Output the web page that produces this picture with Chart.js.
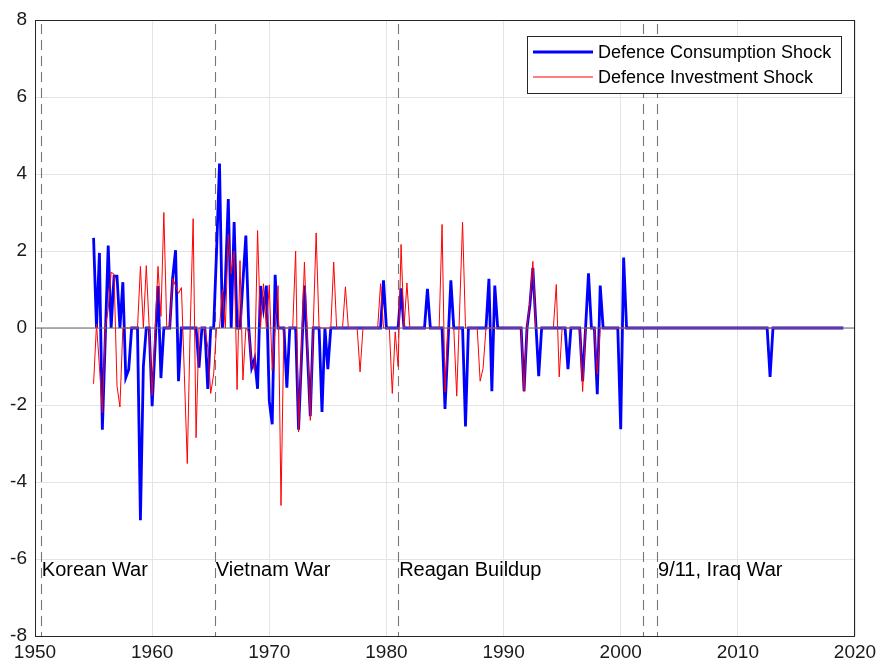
<!DOCTYPE html>
<html>
<head>
<meta charset="utf-8">
<script src="https://cdn.jsdelivr.net/npm/chart.js@4.4.1/dist/chart.umd.min.js"></script>
<style>
  html, body { margin: 0; padding: 0; background: #fff; }
</style>
</head>
<body>
<canvas id="shockChart" width="877" height="666"></canvas>
<script>
// quarterly series, first observation 1955Q1
var startYear = 1955;

var consumptionShock = [
  2.34, 0, 1.95, -2.64,      // 1955
  -0.25, 2.14, 0, 1.35,      // 1956
  1.35, 0, 1.19, -1.29,      // 1957
  -1.08, 0, 0, 0,            // 1958
  -4.99, -1.0, 0, 0,         // 1959
  -2.03, -0.47, 1.09, -1.3,  // 1960
  0, 0, 0, 1.3,              // 1961
  2.02, -1.38, 0, 0,         // 1962
  0, 0, 0, 0,                // 1963
  -1.03, 0, 0, -1.58,        // 1964
  0, 0, 2.0, 4.27,           // 1965
  0, 1.2, 3.35, 0,           // 1966
  2.75, 0, 0, 1.2,           // 1967
  2.4, 0, -1.03, -0.8,       // 1968
  -1.58, 1.09, 0.5, 1.1,     // 1969
  -1.9, -2.5, 1.38, 0,       // 1970
  0, 0, -1.55, 0,            // 1971
  0, 0, -2.64, -0.77,        // 1972
  1.1, -0.6, -2.29, 0,       // 1973
  0, 0, -2.18, 0,            // 1974
  -1.07, 0, 0, 0,            // 1975
  0, 0, 0, 0,                // 1976
  0, 0, 0, 0,                // 1977
  0, 0, 0, 0,                // 1978
  0, 0, 0, 1.24,             // 1979
  0, 0, 0, 0,                // 1980
  0, 1.03, 0, 0,             // 1981
  0, 0, 0, 0,                // 1982
  0, 0, 1.02, 0,             // 1983
  0, 0, 0, 0,                // 1984
  -2.1, -0.43, 1.24, 0,      // 1985
  0, 0, 0, -2.56,            // 1986
  0, 0, 0, 0,                // 1987
  0, 0, 0, 1.28,             // 1988
  -1.64, 1.1, 0, 0,          // 1989
  0, 0, 0, 0,                // 1990
  0, 0, 0, -1.64,            // 1991
  0, 0.6, 1.56, 0.15,        // 1992
  -1.25, 0, 0, 0,            // 1993
  0, 0, 0, 0,                // 1994
  0, 0, -1.07, 0,            // 1995
  0, 0, 0, -1.38,            // 1996
  0, 1.42, 0, 0,             // 1997
  -1.72, 1.1, 0, 0,          // 1998
  0, 0, 0, 0,                // 1999
  -2.63, 1.83, 0, 0,         // 2000
  0, 0, 0, 0,  0, 0, 0, 0,  0, 0, 0, 0,  0, 0, 0, 0,   // 2001-2004
  0, 0, 0, 0,  0, 0, 0, 0,  0, 0, 0, 0,  0, 0, 0, 0,   // 2005-2008
  0, 0, 0, 0,  0, 0, 0, 0,  0, 0, 0, 0,                // 2009-2011
  0, 0, 0, -1.27,            // 2012
  0, 0, 0, 0,  0, 0, 0, 0,  0, 0, 0, 0,                // 2013-2015
  0, 0, 0, 0,  0, 0, 0, 0,  0, 0, 0, 0,                // 2016-2018
  0                          // 2019
];

var investmentShock = [
  -1.45, 0.1, -1.0, -2.2,    // 1955
  0, 0.5, 1.45, 1.4,         // 1956
  -1.5, -2.05, 0, 0,         // 1957
  0, 0, 0, 0,                // 1958
  1.6, 0, 1.62, 0,           // 1959
  -1.75, -0.1, 1.6, 0.3,     // 1960
  3.0, 0, 0, 1.28,           // 1961
  1.1, 0.9, 1.05, -1.2,      // 1962
  -3.52, 0, 2.84, -2.85,     // 1963
  0, 0, 0, -0.5,             // 1964
  -1.7, -1.2, 0, 0,          // 1965
  1.0, 0, 2.43, 1.4,         // 1966
  2.0, -1.6, 1.75, -1.35,    // 1967
  0, -0.1, -0.9, -1.1,       // 1968
  2.53, 0, 1.15, 0,          // 1969
  1.12, -1.1, 0, 1.1,        // 1970
  -4.61, 0, 0, 0,            // 1971
  0, 2.0, -2.7, -0.5,        // 1972
  1.71, -0.35, -2.4, 0,      // 1973
  2.47, 0, 0, 0,             // 1974
  0, 0, 1.71, 0,             // 1975
  0, 0, 1.07, 0,             // 1976
  0, 0, 0, -1.14,            // 1977
  0, 0, 0, 0,                // 1978
  0, 0, 1.15, 0,             // 1979
  0, 0, -1.7, -0.1,          // 1980
  -1.0, 2.17, 0, 1.17,       // 1981
  0, 0, 0, 0,                // 1982
  0, 0, 0, 0,                // 1983
  0, 0, 0, 2.69,             // 1984
  -1.66, 0, 0, 0,            // 1985
  -1.77, 0.49, 2.75, 0,      // 1986
  0, 0, 0, 0,                // 1987
  -1.38, -1.05, 0, 0,        // 1988
  0, 0, 0, 0,                // 1989
  0, 0, 0, 0,                // 1990
  0, 0, 0, -1.65,            // 1991
  0, 0.7, 1.73, 0,           // 1992
  0, 0, 0, 0,                // 1993
  0, 0, 1.13, -1.27,         // 1994
  0, 0, 0, 0,                // 1995
  0, 0, 0, -1.65,            // 1996
  0, 0, 0, 0,                // 1997
  -1.2, 0, 0, 0,             // 1998
  0, 0, 0, 0,  0, 0, 0, 0,  0, 0, 0, 0,  0, 0, 0, 0,   // 1999-2002
  0, 0, 0, 0,  0, 0, 0, 0,  0, 0, 0, 0,  0, 0, 0, 0,   // 2003-2006
  0, 0, 0, 0,  0, 0, 0, 0,  0, 0, 0, 0,  0, 0, 0, 0,   // 2007-2010
  0, 0, 0, 0,  0, 0, 0, 0,  0, 0, 0, 0,  0, 0, 0, 0,   // 2011-2014
  0, 0, 0, 0,  0, 0, 0, 0,  0, 0, 0, 0,  0, 0, 0, 0,   // 2015-2018
  0                          // 2019
];

var seriesNames = ['Defence Consumption Shock', 'Defence Investment Shock'];

// war / buildup dates (dashed lines) and the text next to them
var eventYears = [1950.5, 1965.35, 1981.0, 2001.9, 2003.1];
var labelYears = [1950.5, 1965.35, 1981.0, 2003.1];
var labelTexts = ['Korean War', 'Vietnam War', 'Reagan Buildup', '9/11, Iraq War'];
var labelLevel = -6.3;

var yearTicks = [1950, 1960, 1970, 1980, 1990, 2000, 2010, 2020];
var shockTicks = [-8, -6, -4, -2, 0, 2, 4, 6, 8];
var zeroLevel = 0;

var FONT = '"Liberation Sans", Arial, Helvetica, sans-serif';

function toPoints(values) {
  return values.map(function (v, i) {
    return { x: startYear + i / 4, y: v };
  });
}

var decorPlugin = {
  id: 'decor',
  beforeDatasetsDraw: function (chart) {
    var ctx = chart.ctx, area = chart.chartArea, xs = chart.scales.x;
    ctx.save();
    ctx.strokeStyle = '#777777';
    ctx.lineWidth = 1.1;
    ctx.setLineDash([10, 6]);
    eventYears.forEach(function (yr) {
      var px = Math.round(xs.getPixelForValue(yr)) + 0.5;
      ctx.beginPath();
      ctx.moveTo(px, area.top + 4);
      ctx.lineTo(px, area.bottom);
      ctx.stroke();
    });
    ctx.restore();
  },
  afterDatasetsDraw: function (chart) {
    var ctx = chart.ctx, area = chart.chartArea;
    var xs = chart.scales.x, ys = chart.scales.y;
    ctx.save();

    // zero reference line
    var zy = ys.getPixelForValue(zeroLevel);
    ctx.strokeStyle = 'rgba(110,110,110,0.7)';
    ctx.lineWidth = 1.5;
    ctx.beginPath();
    ctx.moveTo(area.left, zy);
    ctx.lineTo(area.right, zy);
    ctx.stroke();

    // axes box
    ctx.strokeStyle = '#262626';
    ctx.lineWidth = 1;
    ctx.strokeRect(Math.round(area.left) + 0.5, Math.round(area.top) + 0.5,
      Math.round(area.right - area.left) - 1, Math.round(area.bottom - area.top));

    // event labels
    ctx.fillStyle = '#000';
    ctx.font = '20px ' + FONT;
    ctx.textAlign = 'left';
    ctx.textBaseline = 'middle';
    labelYears.forEach(function (yr, i) {
      ctx.fillText(labelTexts[i], xs.getPixelForValue(yr) + 1, ys.getPixelForValue(labelLevel));
    });

    // legend
    var lx = area.right - 328, ly = area.top + 16, lw = 314, lh = 57;
    ctx.fillStyle = '#fff';
    ctx.fillRect(lx, ly, lw, lh);
    ctx.strokeStyle = '#262626';
    ctx.lineWidth = 1;
    ctx.strokeRect(lx + 0.5, ly + 0.5, lw, lh);
    var rows = [
      { color: '#0000ff', width: 2.8, y: ly + 16 },
      { color: '#ff0000', width: 1, y: ly + 41 }
    ];
    ctx.font = '18px ' + FONT;
    rows.forEach(function (r, i) {
      ctx.strokeStyle = r.color;
      ctx.lineWidth = r.width;
      ctx.beginPath();
      ctx.moveTo(lx + 6, r.y);
      ctx.lineTo(lx + 66, r.y);
      ctx.stroke();
      ctx.fillStyle = '#000';
      ctx.fillText(seriesNames[i], lx + 71, r.y + 1);
    });
    ctx.restore();
  }
};

var tickFont = { family: FONT, size: 19 };

new Chart(document.getElementById('shockChart'), {
  type: 'line',
  data: {
    datasets: [
      {
        label: seriesNames[0],
        data: toPoints(consumptionShock),
        borderColor: '#0000ff',
        borderWidth: 2.8,
        order: 2
      },
      {
        label: seriesNames[1],
        data: toPoints(investmentShock),
        borderColor: '#ff0000',
        borderWidth: 1,
        order: 1
      }
    ]
  },
  options: {
    responsive: false,
    animation: false,
    devicePixelRatio: 1,
    layout: { padding: { top: 20, right: 22, left: 0, bottom: 0 } },
    elements: {
      point: { radius: 0 },
      line: { tension: 0, borderJoinStyle: 'miter', fill: false }
    },
    plugins: {
      legend: { display: false },
      tooltip: { enabled: false }
    },
    scales: {
      x: {
        type: 'linear',
        min: 1950,
        max: 2020,
        afterBuildTicks: function (s) { s.ticks = yearTicks.map(function (v) { return { value: v }; }); },
        afterFit: function (s) { s.height = 30; s.paddingLeft = 0; s.paddingRight = 0; },
        ticks: {
          autoSkip: false,
          maxRotation: 0,
          padding: 5,
          color: '#1a1a1a',
          font: tickFont,
          callback: function (v) { return String(v); }
        },
        grid: { color: '#e4e4e4', drawTicks: false },
        border: { display: false }
      },
      y: {
        min: -8,
        max: 8,
        afterBuildTicks: function (s) { s.ticks = shockTicks.map(function (v) { return { value: v }; }); },
        afterFit: function (s) { s.width = 35; s.paddingTop = 0; s.paddingBottom = 0; },
        ticks: {
          padding: 8,
          color: '#1a1a1a',
          font: tickFont,
          callback: function (v) { return String(v); }
        },
        grid: { color: '#e4e4e4', drawTicks: false },
        border: { display: false }
      }
    }
  },
  plugins: [decorPlugin]
});
</script>
</body>
</html>
